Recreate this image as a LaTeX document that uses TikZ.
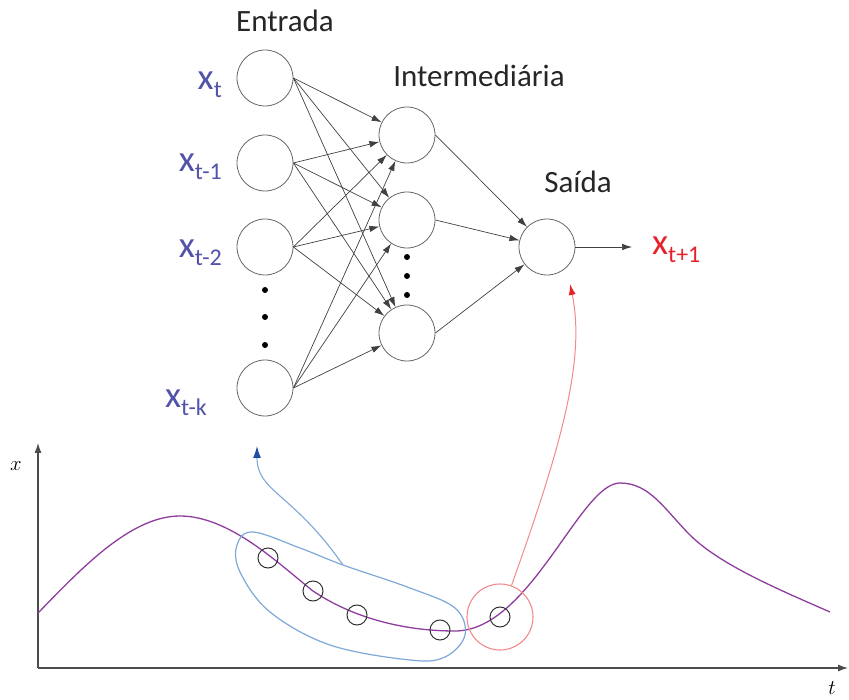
\documentclass[tikz,border=0pt]{standalone}
\usepackage{fontspec}
\setmainfont{Carlito}
\usepackage{xcolor}
\usepackage{tikz}
\usetikzlibrary{arrows.meta, positioning, calc}
\definecolor{labelBlue}{HTML}{5252A8}
\definecolor{outRed}{HTML}{E8202A}
\definecolor{seriesPurple}{HTML}{8E3D9E}
\definecolor{windowBlue}{HTML}{7EA8D8}
\definecolor{tipBlue}{HTML}{1F4FA0}
\definecolor{targetRed}{HTML}{F28A8A}
\newcommand{\xlab}[1]{{\fontsize{37}{42}\selectfont x}{\fontsize{24}{28}\selectfont\raisebox{-8pt}{#1}}}
\tikzset{
    neuron/.style={
        circle, draw=black!60, line width=0.8pt, minimum size=56pt, inner sep=0pt
    },
    conn/.style={
        -{Latex[length=10pt,width=6.5pt]}, draw=black!75, line width=0.7pt
    },
    head_lbl/.style={
        font=\fontsize{31}{36}\selectfont, text=black!85, anchor=base, inner sep=0pt
    },
    in_lbl/.style={
        text=labelBlue, anchor=base east, inner sep=0pt
    },
    sample/.style={
        circle, draw=black!80, line width=1pt, minimum size=20pt, inner sep=0pt
    },
    nn_dot/.style={
        fill=black, radius=3pt
    }
}

\begin{document}
\begin{tikzpicture}[x=1pt, y=-1pt]
    \useasboundingbox (0,0) rectangle (849,700);

    % Layer titles
    \node[head_lbl] (tin) at (285, 32) {Entrada};
    \node[head_lbl] (thid) at (479, 87) {Intermediária};
    \node[head_lbl] (tout) at (578, 193) {Saída};

    % Input layer
    \node[neuron] (in1) at (265, 78) {};
    \node[neuron] (in2) at (265, 163) {};
    \node[neuron] (in3) at (265, 247) {};
    \node[neuron] (in4) at (265, 388) {};
    \fill[nn_dot] (265, 290) circle;
    \fill[nn_dot] (265, 317) circle;
    \fill[nn_dot] (265, 345) circle;

    % Input labels
    \node[in_lbl] (l1) at (222, 90) {\xlab{t}};
    \node[in_lbl] (l2) at (222, 172) {\xlab{t-1}};
    \node[in_lbl] (l3) at (222, 258) {\xlab{t-2}};
    \node[in_lbl] (l4) at (207, 408) {\xlab{t-k}};

    % Hidden layer
    \node[neuron] (hid1) at (407, 135) {};
    \node[neuron] (hid2) at (407, 220) {};
    \node[neuron] (hid3) at (407, 333) {};
    \fill[nn_dot] (407, 257) circle;
    \fill[nn_dot] (407, 276) circle;
    \fill[nn_dot] (407, 295) circle;

    % Output neuron
    \node[neuron] (out) at (547, 247) {};
    \coordinate (outend) at (632, 247);
    \node[text=outRed, anchor=base west, inner sep=0pt] (lout) at (652, 255) {\xlab{t+1}};

    % Input to hidden
    \draw[conn] (in1.east) -- (hid1);
    \draw[conn] (in1.east) -- (hid2);
    \draw[conn] (in1.east) -- (hid3);
    \draw[conn] (in2.east) -- (hid1);
    \draw[conn] (in2.east) -- (hid2);
    \draw[conn] (in2.east) -- (hid3);
    \draw[conn] (in3.east) -- (hid1);
    \draw[conn] (in3.east) -- (hid2);
    \draw[conn] (in3.east) -- (hid3);
    \draw[conn] (in4.east) -- (hid1);
    \draw[conn] (in4.east) -- (hid2);
    \draw[conn] (in4.east) -- (hid3);

    % Hidden to output
    \draw[conn] (hid1.east) -- (out);
    \draw[conn] (hid2.east) -- (out);
    \draw[conn] (hid3.east) -- (out);
    \draw[conn] (out.east) -- (outend);

    % Time series axes
    \coordinate (origin) at (38, 668);
    \coordinate (ytop) at (38, 443);
    \coordinate (xright) at (848, 668);
    \draw[-{Latex[length=10pt,width=7pt]}, draw=black!70, line width=1.1pt] (origin) -- (ytop);
    \draw[-{Latex[length=10pt,width=7pt]}, draw=black!70, line width=1.1pt] (origin) -- (xright);
    \node[font=\fontsize{20}{24}\selectfont] (ax) at (16, 466) {$x$};
    \node[font=\fontsize{20}{24}\selectfont] (at) at (832, 688) {$t$};

    % Series
    \draw[seriesPurple, line width=1.3pt]
        (38,613) .. controls (80,570) and (130,516) .. (180,516)
        .. controls (230,516) and (280,565) .. (313,591)
        .. controls (350,616) and (400,631) .. (455,631)
        .. controls (530,631) and (580,483) .. (620,483)
        .. controls (650,483) and (665,510) .. (690,535)
        .. controls (720,565) and (780,590) .. (830,612);

    % Samples
    \node[sample] (s1) at (268, 558) {};
    \node[sample] (s2) at (313, 591) {};
    \node[sample] (s3) at (357, 615) {};
    \node[sample] (s4) at (440, 630) {};
    \node[sample] (s5) at (500, 617) {};

    % Input window
    \draw[windowBlue, line width=1.2pt] plot[smooth cycle, tension=0.6] coordinates {
        (253,532) (300,548) (343,565) (410,588) (455,608) (465,635) (445,657)
        (410,660) (330,645) (270,612) (240,572) (237,545)};
    \coordinate (winTop) at (343, 565);
    \coordinate (blueTip) at (257, 446);
    \draw[windowBlue, line width=1.1pt, -{Latex[length=12pt,width=8pt,color=tipBlue]}]
        (winTop) .. controls (292, 492) and (257, 492) .. (blueTip);

    % Target window
    \node[circle, draw=targetRed, line width=1.1pt, minimum size=66pt, inner sep=0pt] (win) at (s5) {};
    \coordinate (redTip) at (570, 284);
    \draw[targetRed, line width=1pt, -{Latex[length=11pt,width=7pt,color=outRed]}]
        (win.70) .. controls (560, 450) and (586, 360) .. (redTip);
\end{tikzpicture}
\end{document}
